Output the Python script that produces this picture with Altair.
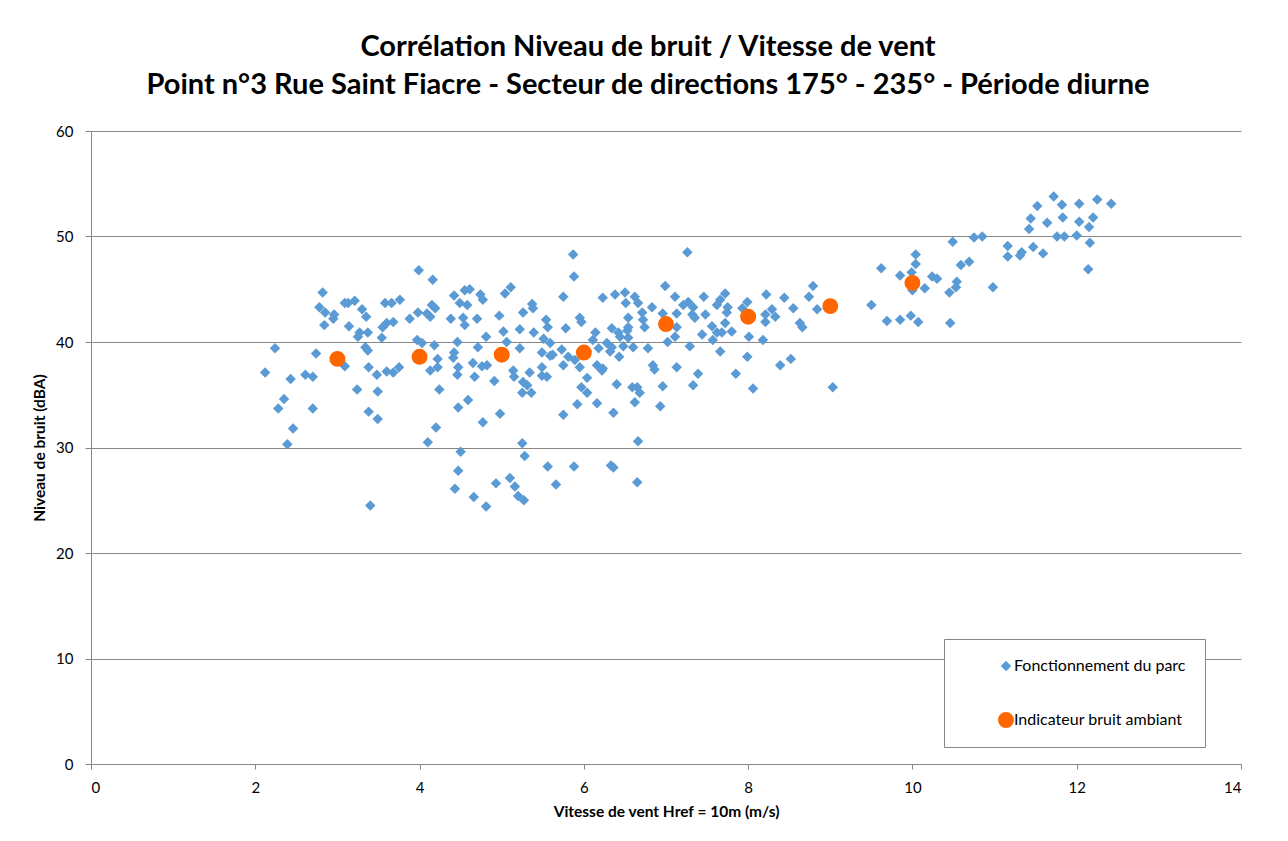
import altair as alt
import pandas as pd

# Fonctionnement du parc : vitesse de vent (m/s) / niveau de bruit (dBA)
vitesse = [
    2.82, 2.78, 2.85, 2.84, 2.96, 2.95, 3.09, 3.13, 3.21, 3.30,
    3.35, 3.14, 3.27, 3.37, 3.25, 3.54, 3.55, 3.60, 3.68, 3.58,
    3.66, 3.76, 3.88, 3.98, 4.09, 4.15, 4.19, 4.13, 4.16, 4.38,
    4.42, 4.49, 4.55, 4.53, 2.24, 2.74, 3.09, 3.34, 3.37, 2.12,
    2.43, 2.61, 2.70, 3.38, 3.48, 3.60, 3.68, 3.75, 3.24, 3.49,
    2.35, 2.28, 2.70, 3.97, 4.03, 4.18, 4.13, 4.22, 4.22, 4.24,
    4.41, 4.42, 4.46, 4.47, 4.46, 4.59, 4.47, 2.39, 2.46, 3.38,
    3.49, 3.40, 4.20, 4.10, 4.50, 4.47, 4.43, 5.87, 5.88, 4.61,
    4.74, 4.77, 5.04, 5.11, 4.58, 4.55, 4.70, 4.97, 5.26, 5.37,
    5.38, 5.22, 5.02, 4.81, 4.71, 5.06, 5.22, 5.39, 5.54, 5.56,
    5.51, 5.59, 5.49, 5.59, 5.62, 5.49, 5.49, 5.55, 5.34, 5.14,
    5.15, 4.65, 4.76, 4.82, 4.67, 4.91, 5.26, 5.31, 5.36, 5.25,
    5.75, 5.78, 5.73, 5.75, 5.81, 5.89, 5.95, 5.95, 5.97, 6.04,
    5.97, 6.04, 6.14, 6.11, 6.18, 6.16, 6.23, 6.22, 6.23, 6.38,
    6.50, 6.51, 6.34, 6.28, 6.34, 6.32, 6.43, 6.42, 6.44, 6.48,
    6.54, 6.54, 6.53, 6.54, 6.60, 6.62, 6.66, 6.71, 6.72, 6.74,
    6.78, 6.83, 6.84, 6.86, 6.96, 6.99, 7.11, 7.02, 7.13, 6.40,
    6.59, 6.65, 6.68, 6.96, 4.98, 4.77, 5.25, 5.28, 5.75, 5.92,
    6.16, 6.36, 6.62, 6.93, 6.66, 5.56, 5.88, 6.36, 6.33, 5.66,
    6.65, 5.10, 4.93, 5.16, 5.20, 5.27, 4.66, 4.81, 7.26, 7.21,
    7.27, 7.33, 7.13, 7.32, 7.35, 7.48, 7.46, 7.62, 7.66, 7.72,
    7.75, 7.74, 7.56, 7.72, 7.44, 7.62, 7.68, 7.80, 7.57, 7.13,
    7.11, 7.29, 7.66, 7.93, 7.99, 8.01, 8.18, 8.21, 8.21, 8.22,
    8.29, 8.33, 8.44, 8.55, 8.63, 8.66, 8.74, 8.79, 8.84, 9.50,
    9.62, 9.69, 7.99, 7.39, 7.33, 7.85, 8.06, 8.39, 8.52, 9.03,
    9.85, 10.04, 10.04, 9.99, 10.49, 10.59, 10.69, 10.75, 10.85, 11.16,
    11.16, 11.31, 11.33, 11.47, 11.59, 11.42, 11.44, 11.52, 11.64, 11.72,
    11.82, 11.83, 11.76, 11.85, 12.00, 12.03, 12.03, 12.15, 12.20, 12.16,
    12.25, 12.42, 12.14, 10.15, 10.24, 10.30, 10.54, 10.53, 10.45, 10.98,
    9.85, 9.98, 10.07, 10.46, 10.00, 3.99,
]
niveau = [
    44.7, 43.3, 42.8, 41.6, 42.6, 42.2, 43.7, 43.7, 43.9, 43.1,
    42.4, 41.5, 40.9, 40.9, 40.5, 40.4, 41.4, 41.8, 41.9, 43.7,
    43.7, 44.0, 42.2, 42.8, 42.7, 43.5, 43.2, 42.4, 45.9, 42.2,
    44.4, 43.7, 44.9, 42.3, 39.4, 38.9, 37.7, 39.5, 39.2, 37.1,
    36.5, 36.9, 36.7, 37.6, 36.9, 37.2, 37.1, 37.6, 35.5, 35.3,
    34.6, 33.7, 33.7, 40.2, 39.9, 39.7, 37.3, 38.4, 37.6, 35.5,
    38.5, 39.0, 40.0, 37.6, 36.9, 34.5, 33.8, 30.3, 31.8, 33.4,
    32.7, 24.5, 31.9, 30.5, 29.6, 27.8, 26.1, 48.3, 46.2, 45.0,
    44.5, 44.0, 44.6, 45.2, 43.5, 41.6, 42.2, 42.5, 42.8, 43.6,
    43.2, 41.2, 41.0, 40.5, 39.5, 40.0, 39.4, 40.9, 42.1, 41.4,
    40.3, 39.9, 39.0, 38.7, 38.8, 37.6, 36.8, 36.7, 37.1, 37.3,
    36.7, 38.0, 37.7, 37.8, 36.7, 36.3, 36.2, 35.9, 35.2, 35.2,
    44.3, 41.3, 39.3, 37.8, 38.6, 38.3, 37.6, 42.3, 41.9, 36.6,
    35.7, 35.2, 40.9, 40.2, 39.4, 37.8, 37.5, 37.3, 44.2, 44.5,
    44.7, 43.7, 41.3, 39.9, 39.5, 39.1, 38.6, 40.9, 40.5, 39.6,
    42.3, 41.4, 41.1, 40.4, 39.5, 44.3, 43.7, 42.8, 42.1, 41.4,
    39.4, 43.3, 37.8, 37.4, 42.7, 45.3, 44.3, 40.0, 37.6, 36.0,
    35.7, 35.7, 35.2, 35.8, 33.2, 32.4, 30.4, 29.2, 33.1, 34.1,
    34.2, 33.3, 34.3, 33.9, 30.6, 28.2, 28.2, 28.1, 28.3, 26.5,
    26.7, 27.1, 26.6, 26.3, 25.4, 25.0, 25.3, 24.4, 48.5, 43.5,
    43.8, 43.3, 42.7, 42.6, 42.3, 42.6, 44.3, 43.5, 44.0, 44.6,
    43.3, 42.8, 41.5, 41.8, 40.7, 40.9, 40.9, 41.0, 40.2, 41.4,
    40.5, 39.6, 39.1, 43.2, 43.8, 40.5, 40.2, 42.6, 41.9, 44.5,
    43.1, 42.4, 44.2, 43.2, 41.8, 41.4, 44.3, 45.3, 43.1, 43.5,
    47.0, 42.0, 38.6, 37.0, 35.9, 37.0, 35.6, 37.8, 38.4, 35.7,
    46.3, 48.3, 47.4, 46.6, 49.5, 47.3, 47.6, 49.9, 50.0, 49.1,
    48.1, 48.2, 48.5, 49.0, 48.4, 50.7, 51.7, 52.9, 51.3, 53.8,
    53.0, 51.8, 50.0, 50.0, 50.1, 53.1, 51.4, 50.9, 51.8, 49.4,
    53.5, 53.1, 46.9, 45.1, 46.2, 46.0, 45.7, 45.2, 44.7, 45.2,
    42.1, 42.5, 41.9, 41.8, 44.9, 46.8,
]

# Indicateur bruit ambiant
ind_vitesse = [3, 4, 5, 6, 7, 8, 9, 10]
ind_niveau = [38.4, 38.6, 38.8, 39.0, 41.7, 42.4, 43.4, 45.6]

S1 = "Fonctionnement du parc"
S2 = "Indicateur bruit ambiant"
series = [S1, S2]
colors = ["#5B9BD5", "#FF6600"]
shapes = ["diamond", "circle"]
sizes = [110, 254]

df = pd.concat([
    pd.DataFrame({"v": vitesse, "n": niveau, "s": S1}),
    pd.DataFrame({"v": ind_vitesse, "n": ind_niveau, "s": S2}),
], ignore_index=True)

FONT = "Lato"
GRID = "#868686"

legend = alt.Legend(
    title=None, orient="none", legendX=853, legendY=508,
    strokeColor=GRID, fillColor="white", padding=19,
    symbolOffset=35, labelOffset=0, rowPadding=38,
    labelFont=FONT, labelFontSize=16, labelColor="black",
    symbolSize=80, symbolStrokeWidth=0, labelLimit=500,
)

chart = alt.Chart(df).mark_point(filled=True, opacity=1, strokeWidth=0).encode(
    x=alt.X("v:Q", scale=alt.Scale(domain=[0, 14], nice=False),
            axis=alt.Axis(values=list(range(0, 15, 2)), grid=False,
                          labelPadding=11, titlePadding=9,
                          titleFont=FONT, titleFontSize=15.5, titleFontWeight="bold",
                          title="Vitesse de vent Href = 10m (m/s)")),
    y=alt.Y("n:Q", scale=alt.Scale(domain=[0, 60], nice=False),
            axis=alt.Axis(values=list(range(0, 61, 10)), grid=True,
                          tickSize=6, labelPadding=12, titlePadding=8,
                          titleFont=FONT, titleFontSize=15.5, titleFontWeight="bold",
                          title="Niveau de bruit (dBA)")),
    color=alt.Color("s:N", scale=alt.Scale(domain=series, range=colors), legend=legend),
    shape=alt.Shape("s:N", scale=alt.Scale(domain=series, range=shapes), legend=legend),
    size=alt.Size("s:N", scale=alt.Scale(domain=series, range=sizes), legend=None),
    order=alt.Order("s:N"),
).properties(
    width=1150, height=633,
    autosize=alt.AutoSizeParams(type="none"),
    padding={"left": 83, "top": 123, "right": 30, "bottom": 70},
    title=alt.TitleParams(
        text=["Corrélation Niveau de bruit / Vitesse de vent",
              "Point n°3 Rue Saint Fiacre - Secteur de directions 175° - 235° - Période diurne"],
        font=FONT, fontSize=29, fontWeight="bold", color="black",
        anchor="middle", dx=-18, offset=24, lineHeight=38,
    ),
).configure_view(stroke=None).configure_axis(
    labelFont=FONT, labelFontSize=15, labelColor="black",
    titleColor="black",
    domainColor=GRID, tickColor=GRID, gridColor=GRID, tickSize=5,
)

chart.save("out.html", embed_options={"renderer": "svg", "actions": False})
